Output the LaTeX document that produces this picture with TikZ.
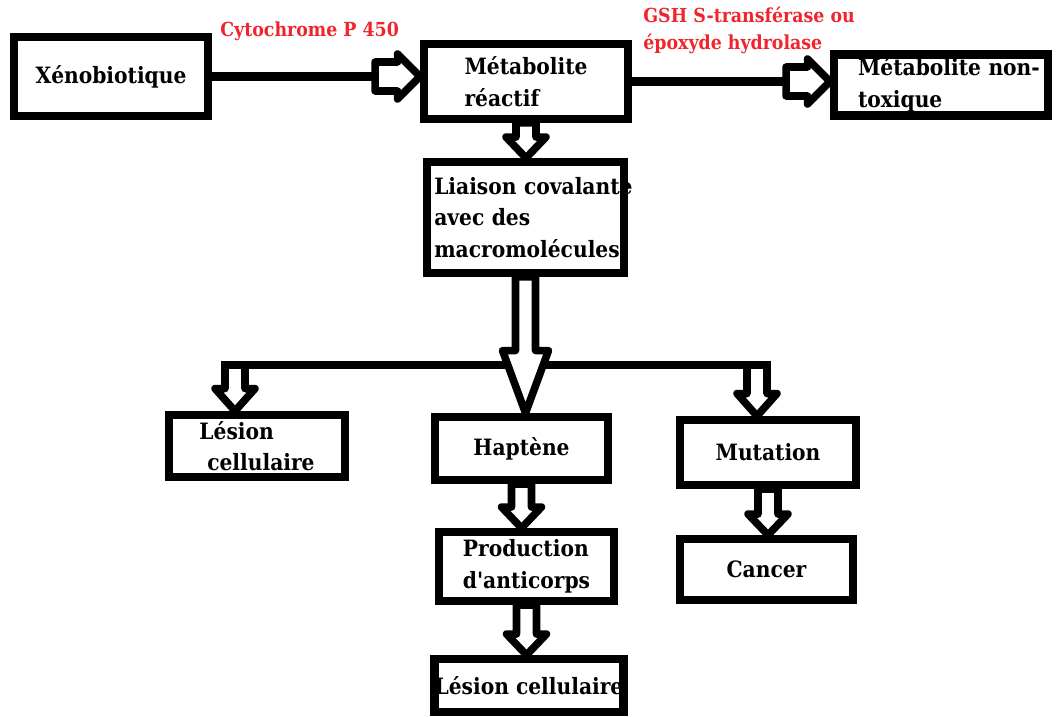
\documentclass[tikz,border=0pt]{standalone}
\usepackage{fontspec}
\setmainfont{DejaVu Serif Condensed}
\usepackage{xcolor}
\usepackage{tikz}
\usetikzlibrary{positioning,calc}
\definecolor{enzred}{RGB}{240,36,44}

% hollow block arrows
\newcommand{\fatdown}[5]{%
  \draw[blk] let \p1=#1, \p2=#2 in
    (\x1-#3,\y1) -- (\x1-#3,\y2+#5) -- (\x1-#4,\y2+#5) -- (\x1,\y2)
    -- (\x1+#4,\y2+#5) -- (\x1+#3,\y2+#5) -- (\x1+#3,\y1) -- cycle;}
\newcommand{\fatright}[2]{%
  \draw[blk] let \p1=#1, \p2=#2 in
    (\x1,\y1-0.29cm) -- (\x2-0.45cm,\y1-0.29cm) -- (\x2-0.45cm,\y1-0.45cm) -- (\x2,\y1)
    -- (\x2-0.45cm,\y1+0.45cm) -- (\x2-0.45cm,\y1+0.29cm) -- (\x1,\y1+0.29cm) -- cycle;}

\begin{document}
\begin{tikzpicture}[font=\bfseries\fontsize{12.8}{18}\selectfont, box/.style={draw, line width=4.8pt, align=left, inner sep=2pt}, blk/.style={draw, fill=white, line width=4.3pt, line join=round}, conn/.style={line width=4.6pt}, enz/.style={text=enzred, align=left, inner sep=0pt, font=\bfseries\fontsize{11}{15}\selectfont}]
\useasboundingbox (0,0) rectangle (21.14,-14.32);
\node[box, minimum width=3.87cm, minimum height=1.57cm] (xeno) at (2.22,-1.53) {Xénobiotique};
\node[box, minimum width=4.07cm, minimum height=1.49cm] (meta) at (10.52,-1.63) {Métabolite\\réactif};
\node[box, inner xsep=0.475cm, text width=3.32cm, minimum height=1.15cm] (nontox) at (18.82,-1.70) {\mbox{Métabolite non-}\\toxique};
\node[box, inner xsep=0.14cm, text width=3.65cm, minimum height=2.21cm] (liais) at (10.51,-4.35) {\mbox{Liaison covalante}\\avec des\\\mbox{macromolécules}};
\node[box, minimum width=3.51cm, minimum height=1.23cm] (lesA) at (5.14,-8.92) {Lésion\\\hspace*{0.35em}cellulaire};
\node[box, minimum width=3.45cm, minimum height=1.25cm] (hapt) at (10.43,-8.97) {Haptène};
\node[box, minimum width=3.51cm, minimum height=1.29cm] (mut) at (15.36,-9.05) {Mutation};
\node[box, minimum width=3.49cm, minimum height=1.37cm] (prod) at (10.53,-11.33) {Production\\d\textquotesingle anticorps};
\node[box, inner xsep=0pt, minimum width=3.71cm, minimum height=1.05cm] (lesB) at (10.58,-13.71) {Lésion cellulaire};
\node[box, minimum width=3.45cm, minimum height=1.21cm] (canc) at (15.33,-11.39) {Cancer};

\node[enz, anchor=west] (cyp) at (4.40,-0.62) {Cytochrome P 450};
\node[enz, anchor=north west] (gsh) at (12.86,-0.14) {GSH S-transférase ou\\époxyde hydrolase};

% top row
\coordinate (xs) at ($(xeno.east -| meta.west)+(-0.9,0)$);
\draw[conn] (xeno.east) -- (xs);
\fatright{(xs)}{(xeno.east -| meta.west)}
\coordinate (ms) at ($(meta.east -| nontox.west)+(-0.88,0)$);
\draw[conn] (meta.east) -- (ms);
\fatright{(ms)}{(meta.east -| nontox.west)}
\fatdown{(meta.south)}{(meta.south |- liais.north)}{0.2cm}{0.4cm}{0.42cm}

% branches
\coordinate (brL) at (4.70,-7.30);
\coordinate (brR) at (15.14,-7.30);
\fatdown{(brL)}{(brL |- lesA.north)}{0.2cm}{0.4cm}{0.45cm}
\fatdown{(brR)}{(brR |- mut.north)}{0.2cm}{0.4cm}{0.45cm}
\draw[conn] ($(brL)+(-0.28,0)$) -- ($(brR)+(0.28,0)$);
\fatdown{(liais.south)}{(liais.south |- hapt.north)}{0.2cm}{0.46cm}{1.25cm}

\fatdown{(hapt.south)}{(hapt.south |- prod.north)}{0.2cm}{0.4cm}{0.42cm}
\fatdown{(prod.south)}{(prod.south |- lesB.north)}{0.2cm}{0.4cm}{0.42cm}
\fatdown{(mut.south)}{(mut.south |- canc.north)}{0.2cm}{0.4cm}{0.42cm}
\end{tikzpicture}
\end{document}
